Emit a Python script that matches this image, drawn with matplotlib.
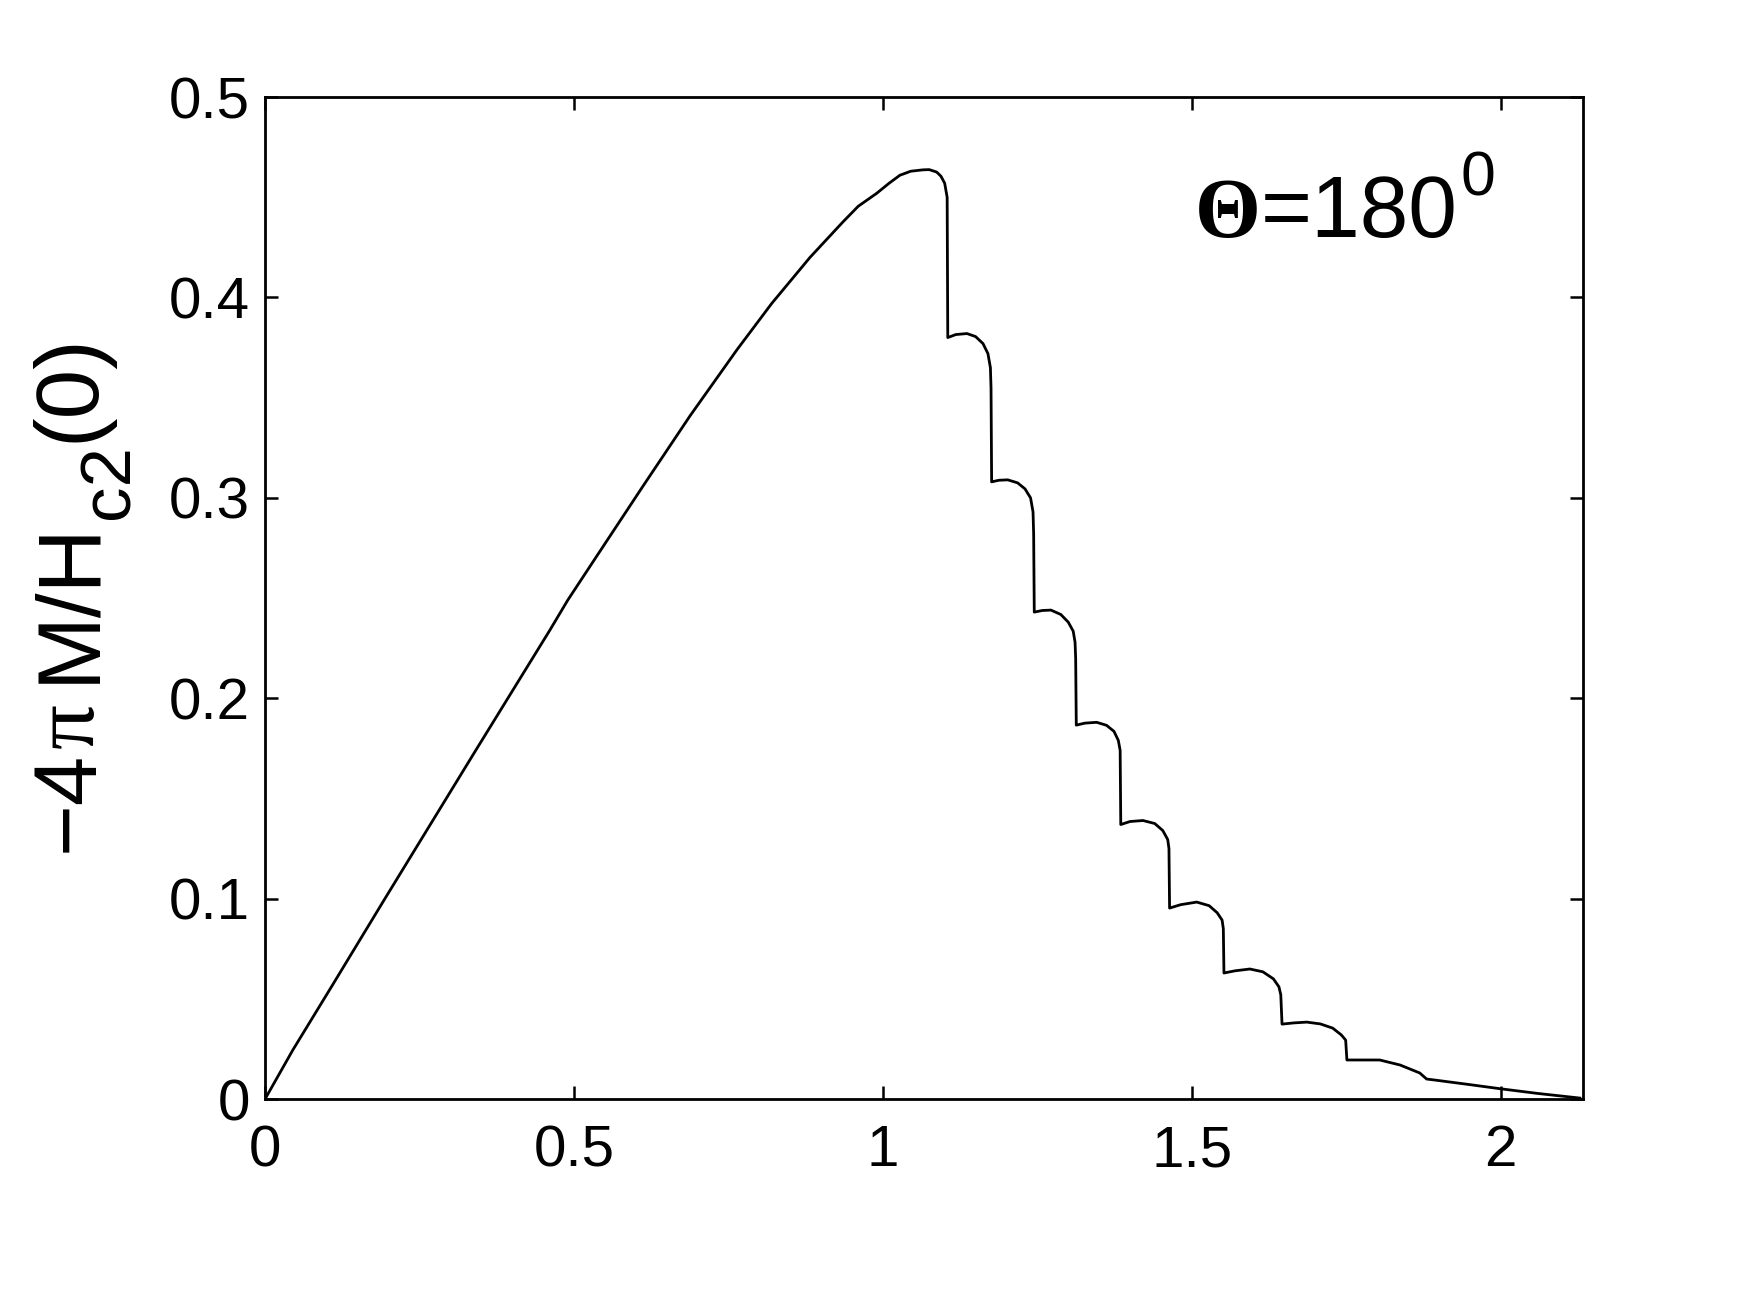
import numpy as np
import matplotlib
matplotlib.use("Agg")
import matplotlib.pyplot as plt

plt.rcParams['font.family'] = ['Liberation Sans', 'DejaVu Sans']

# magnetization curve (H/Hc2(0), -4pi M/Hc2(0))
h = [0, 0.045, 0.108, 0.194, 0.34, 0.461, 0.49, 0.537, 0.612, 0.688, 0.764, 0.82,
     0.882, 0.935, 0.96, 0.99, 1.01, 1.0275, 1.045, 1.065, 1.075, 1.087, 1.094, 1.100, 1.104,
     1.105, 1.118, 1.136, 1.150, 1.162, 1.170, 1.174, 1.175,
     1.176, 1.188, 1.202, 1.218, 1.230, 1.239, 1.243, 1.244,
     1.245, 1.258, 1.272, 1.288, 1.300, 1.308, 1.311, 1.312,
     1.313, 1.327, 1.346, 1.362, 1.374, 1.381, 1.384,
     1.385, 1.400, 1.421, 1.440, 1.453, 1.461, 1.463,
     1.464, 1.482, 1.508, 1.528, 1.541, 1.549, 1.551,
     1.552, 1.570, 1.594, 1.615, 1.632, 1.641, 1.644,
     1.646, 1.665, 1.686, 1.708, 1.728, 1.742, 1.749,
     1.751, 1.780, 1.804, 1.837, 1.869, 1.880, 1.893,
     1.95, 1.998, 2.06, 2.128]
m = [0, 0.0245, 0.0563, 0.100, 0.1735, 0.234, 0.249, 0.271, 0.306, 0.341, 0.374, 0.397,
     0.420, 0.4376, 0.4455, 0.452, 0.457, 0.461, 0.463, 0.4637, 0.4638, 0.4626, 0.4605, 0.457, 0.450,
     0.380, 0.3815, 0.382, 0.3805, 0.377, 0.372, 0.365, 0.355,
     0.308, 0.3088, 0.309, 0.3075, 0.3045, 0.300, 0.293, 0.282,
     0.243, 0.2438, 0.244, 0.2418, 0.238, 0.2335, 0.228, 0.220,
     0.1866, 0.1876, 0.188, 0.1865, 0.1835, 0.179, 0.174,
     0.137, 0.1385, 0.139, 0.1375, 0.134, 0.1295, 0.125,
     0.0953, 0.097, 0.0983, 0.0965, 0.093, 0.0893, 0.085,
     0.0629, 0.064, 0.0649, 0.0635, 0.060, 0.056, 0.052,
     0.0374, 0.038, 0.0384, 0.0375, 0.0354, 0.032, 0.0294,
     0.0195, 0.0195, 0.0195, 0.017, 0.013, 0.010, 0.0095,
     0.0072, 0.0052, 0.0028, 0.0005]

xticks = [0, 0.5, 1, 1.5, 2]
xticklabels = ['0', '0.5', '1', '1.5', '2']
yticks = [0, 0.1, 0.2, 0.3, 0.4, 0.5]
yticklabels = ['0', '0.1', '0.2', '0.3', '0.4', '0.5']

W, H = 1746, 1312
fig = plt.figure(figsize=(W / 100, H / 100), dpi=100)
ax = fig.add_axes([0.1518, 0.1623, 0.7548, 0.7637])

ax.plot(h, m, color='black', lw=2.0)

ax.set_xlim(0, 2.133)
ax.set_ylim(0, 0.5)
ax.set_xticks(xticks)
ax.set_xticklabels(xticklabels)
ax.set_yticks(yticks)
ax.set_yticklabels(yticklabels)
ax.tick_params(direction='in', length=9.5, width=1.8, labelsize=42,
               top=True, right=True)
ax.tick_params(axis='x', pad=18)
ax.tick_params(axis='y', pad=11)
for s in ax.spines.values():
    s.set_linewidth(2.0)

r = fig.canvas.get_renderer()


def put(x, y, s, size, fam, weight='normal', rot=0):
    # x, y in pixels from top-left; anchored at left end of the baseline
    t = fig.text(x / W, 1 - y / H, s, fontsize=size, family=fam, weight=weight,
                 rotation=rot, rotation_mode='anchor', ha='left', va='baseline')
    bb = t.get_window_extent(r)
    return bb.height if rot else bb.width


# y label, built piece by piece so the subscript sits low like the original
base = 93
y = 852
y -= put(base, y, '\u22124', 64, 'Liberation Sans', rot=90) + 3
y -= put(base, y, '\u03c0', 64, 'Liberation Serif', rot=90) + 20
y -= put(base, y, 'M/H', 64, 'Liberation Sans', rot=90) + 1
y -= put(base + 35, y, 'c2', 51, 'Liberation Sans', rot=90) + 2
put(base, y, '(0)', 64, 'Liberation Sans', rot=90)

# angle annotation
x = 1195
x += put(x, 237, '\u0398', 61, 'Liberation Serif', weight='bold') + 0
x += put(x, 237, '=180', 63, 'Liberation Sans') + 3
put(x, 195, '0', 45, 'Liberation Sans')

fig.savefig('out.png', dpi=100)
